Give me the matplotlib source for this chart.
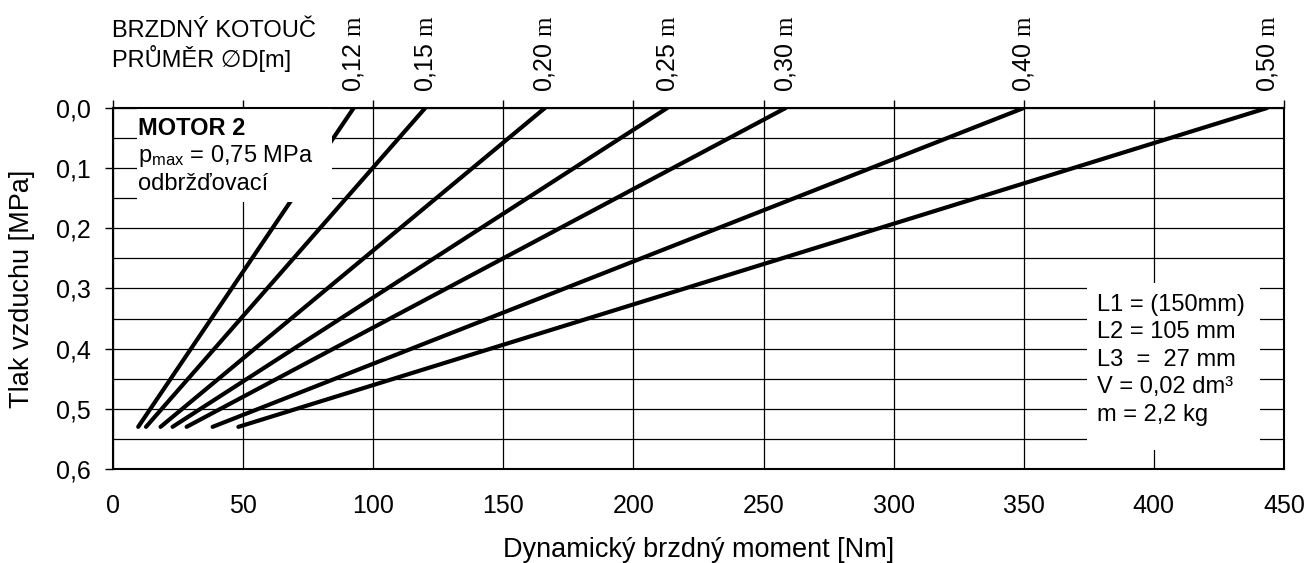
import matplotlib
matplotlib.use("Agg")
import matplotlib.pyplot as plt
from matplotlib.patches import Rectangle
from matplotlib.ticker import MultipleLocator, FuncFormatter

plt.rcParams["font.family"] = ["Liberation Sans", "DejaVu Sans"]
plt.rcParams["mathtext.fontset"] = "custom"
plt.rcParams["mathtext.rm"] = "Liberation Serif"
plt.rcParams["mathtext.sf"] = "Liberation Sans"

# Data
diameters = ["0,12 m", "0,15 m", "0,20 m", "0,25 m", "0,30 m", "0,40 m", "0,50 m"]
moment_top = [92.5, 120, 166, 213, 258.5, 350, 443.5]   # Nm at 0,0 MPa
moment_bottom = [9.7, 12.7, 18.3, 22.9, 28.3, 38.3, 48.2]  # Nm at 0,53 MPa
p_top = 0.0
p_bottom = 0.53

x_ticks = [0, 50, 100, 150, 200, 250, 300, 350, 400, 450]
y_ticks = [0.0, 0.1, 0.2, 0.3, 0.4, 0.5, 0.6]

motor_lines = ["MOTOR 2", r"$\mathsf{p_{max}}$ = 0,75 MPa", "odbržďovací"]
param_lines = ["L1 = (150mm)", "L2 = 105 mm", "L3  =  27 mm", "V = 0,02 dm³", "m = 2,2 kg"]

fig = plt.figure(figsize=(13.15, 5.63), dpi=100)
ax = fig.add_axes([0.0859, 0.167, 0.8905, 0.6412])

# Lines
for top, bottom in zip(moment_top, moment_bottom):
    ax.plot([bottom, top], [p_bottom, p_top], color="black", lw=3,
            solid_capstyle="round", zorder=2)

ax.set_xlim(0, 450)
ax.set_ylim(0.6, 0.0)
ax.set_xticks(x_ticks)
ax.set_yticks(y_ticks)
ax.yaxis.set_minor_locator(MultipleLocator(0.05))
ax.yaxis.set_major_formatter(FuncFormatter(lambda v, pos: f"{v:.1f}".replace(".", ",")))
ax.grid(True, which="both", color="black", lw=0.9, zorder=0.5)
ax.set_axisbelow(True)

ax.tick_params(axis="x", bottom=False, top=True, labelbottom=True, labeltop=False,
               direction="out", length=6, width=1, labelsize=18, pad=12)
ax.tick_params(axis="y", which="major", left=True, right=False, direction="out",
               length=6, width=1, labelsize=18, pad=10)
ax.tick_params(axis="y", which="minor", left=False)
for s in ax.spines.values():
    s.set_linewidth(1.5)

ax.set_xlabel("Dynamický brzdný moment [Nm]", fontsize=19.5, labelpad=14)
ax.set_ylabel("Tlak vzduchu [MPa]", fontsize=19.5, labelpad=15)

# Diameter labels on top
for top, name in zip(moment_top, diameters):
    ax.text(top, -0.026, name.replace(" m", r" $\mathrm{m}$"), rotation=90,
            ha="center", va="bottom", fontsize=18, clip_on=False)

ax.text(-0.5, -0.128, "BRZDNÝ KOTOUČ", fontsize=17, ha="left", va="center")
ax.text(-0.5, -0.082, "PRŮMĚR ∅D[m]", fontsize=17, ha="left", va="center")

# White boxes
ax.add_patch(Rectangle((9.2, 0.002), 75, 0.155, facecolor="white",
                       edgecolor="none", zorder=2.2))
ax.add_patch(Rectangle((374.2, 0.291), 66.6, 0.277, facecolor="white",
                       edgecolor="none", zorder=2.2))

for i, line in enumerate(motor_lines):
    ax.text(9.5, 0.034 + i * 0.046, line, fontsize=17, ha="left", va="center",
            fontweight="bold" if i == 0 else "normal", zorder=3)
for i, line in enumerate(param_lines):
    ax.text(378, 0.327 + i * 0.0457, line, fontsize=17, ha="left", va="center", zorder=3)

fig.savefig("out.png", dpi=100)
